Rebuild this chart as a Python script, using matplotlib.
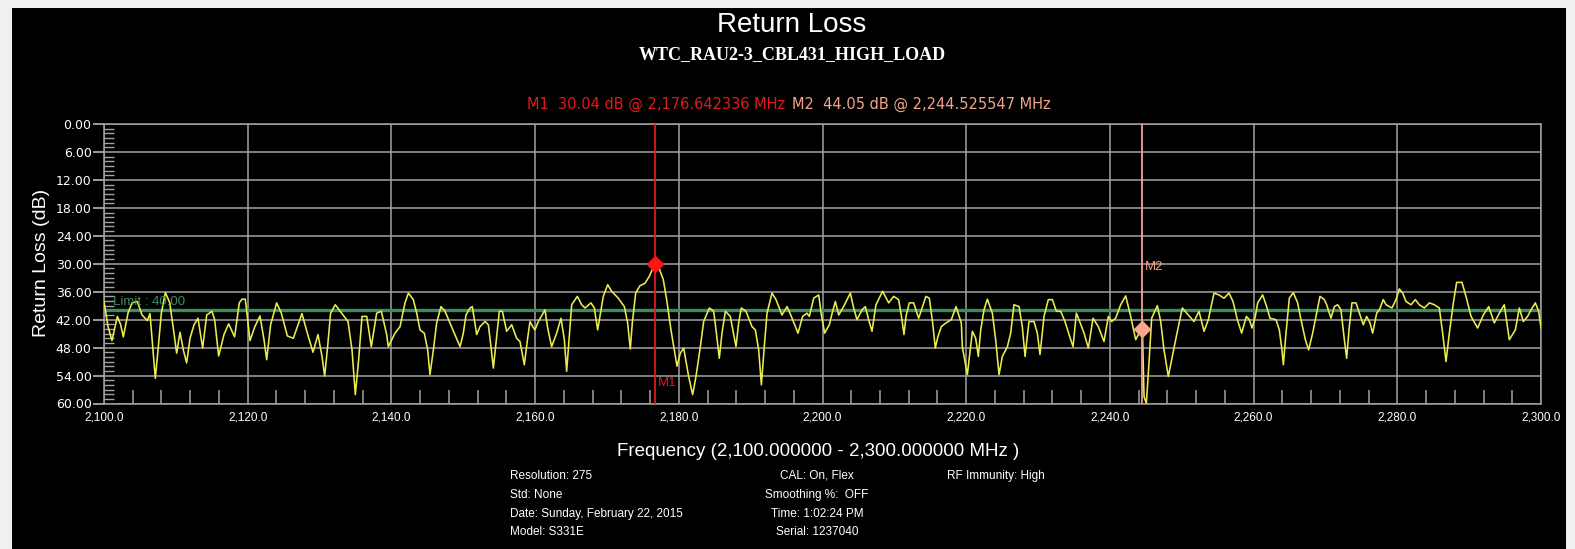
import matplotlib
matplotlib.use("Agg")
import matplotlib.pyplot as plt
from matplotlib.patches import Rectangle
from matplotlib.ticker import MultipleLocator, FuncFormatter

# Return-loss sweep (MHz, dB)
freq_mhz = [
    2100.00, 2100.56, 2101.11, 2101.86, 2102.32, 2102.69, 2103.34, 2103.90, 2104.64, 2105.29,
    2106.03, 2106.40, 2106.82, 2107.14, 2107.52, 2107.98, 2108.54, 2109.14, 2109.74, 2110.11,
    2110.58, 2111.04, 2111.50, 2111.97, 2112.53, 2113.08, 2113.73, 2114.29, 2115.03, 2115.40,
    2115.96, 2116.70, 2117.35, 2118.18, 2118.83, 2119.21, 2119.67, 2120.32, 2120.97, 2121.71,
    2122.27, 2122.64, 2123.19, 2124.03, 2124.68, 2125.52, 2126.35, 2127.55, 2128.30, 2129.09,
    2129.78, 2130.34, 2130.71, 2131.08, 2131.54, 2132.19, 2133.03, 2133.96, 2134.52, 2134.98,
    2135.44, 2135.91, 2136.56, 2137.20, 2137.95, 2138.60, 2139.34,
    2139.57, 2140.50, 2141.20, 2141.89, 2142.36, 2143.05, 2143.52, 2143.98, 2144.58, 2145.05,
    2145.37, 2145.84, 2146.30, 2146.90, 2147.46, 2148.15, 2149.55, 2150.01, 2150.38, 2150.94,
    2151.26, 2151.87, 2152.33, 2153.03, 2153.49, 2153.86, 2154.19, 2154.56, 2155.02, 2155.44,
    2156.04, 2156.74, 2157.43, 2157.90, 2158.50, 2158.96, 2159.29, 2159.66, 2159.98, 2160.45,
    2161.38, 2161.75, 2162.30, 2163.00, 2163.60, 2164.07, 2164.39, 2164.76, 2165.09, 2165.88,
    2166.48, 2166.94, 2167.78, 2168.24, 2168.71, 2169.03, 2169.49, 2170.10, 2170.65, 2171.58,
    2172.42, 2172.88, 2173.25, 2173.53, 2174.00, 2174.60, 2175.29, 2175.90, 2176.642336, 2177.24,
    2177.84, 2178.31, 2178.91,
    2179.75, 2180.21, 2180.68, 2181.37, 2181.93, 2182.39, 2183.00, 2183.46, 2184.25, 2184.85,
    2185.18, 2185.64, 2186.01, 2186.48, 2187.17, 2187.96, 2188.33, 2188.70, 2189.35, 2190.19,
    2190.65, 2191.12, 2191.49, 2191.86, 2192.28, 2192.97, 2193.53, 2194.36, 2195.06, 2195.66,
    2196.59, 2197.24, 2197.84, 2198.17, 2198.77, 2199.47, 2199.84, 2200.30, 2200.95, 2201.41,
    2201.79, 2202.25, 2202.94, 2203.87, 2204.34, 2204.80, 2205.50, 2205.96, 2206.42, 2206.89,
    2207.44, 2208.37, 2209.21, 2209.90, 2210.60, 2211.06, 2211.34, 2211.62, 2212.08, 2212.69,
    2213.38, 2213.85, 2214.40, 2214.87, 2215.33, 2215.70, 2216.07, 2216.54, 2217.19, 2217.93,
    2218.58, 2219.32,
    2219.46, 2220.16, 2220.86, 2221.32, 2221.69, 2222.02, 2222.48, 2222.94, 2223.64, 2224.10,
    2224.57, 2225.03, 2225.73, 2226.19, 2226.65, 2227.35, 2227.81, 2228.19, 2228.74, 2229.44,
    2229.90, 2230.27, 2230.83, 2231.43, 2231.99, 2232.55, 2233.15, 2233.75, 2234.40, 2234.87,
    2235.33, 2235.79, 2236.40, 2237.00, 2237.65, 2238.39, 2239.18, 2239.78, 2240.25, 2240.80,
    2241.50, 2242.20, 2242.89, 2243.59, 2244.05, 2244.525547, 2244.75, 2245.07, 2245.44, 2245.81,
    2246.60, 2247.07, 2247.53, 2248.13, 2248.69, 2249.39, 2250.08, 2250.92, 2251.70, 2252.40,
    2253.10, 2253.70, 2254.49, 2255.19, 2255.88, 2256.58, 2257.13, 2257.74, 2258.34, 2258.99,
    2259.41, 2259.78, 2260.24, 2260.57, 2261.26, 2261.82, 2262.28, 2263.12, 2263.58, 2263.95,
    2264.14, 2264.51, 2264.97, 2265.53, 2266.13, 2266.46, 2267.20, 2267.66, 2268.22, 2268.78,
    2269.24, 2269.84, 2270.17, 2270.77, 2271.24, 2271.70, 2272.16, 2272.63, 2272.95, 2273.32,
    2273.69, 2274.25, 2274.81, 2275.27, 2275.73, 2276.20, 2276.57, 2277.13, 2277.50, 2278.05,
    2278.43, 2279.26, 2279.82, 2280.28, 2280.75, 2281.21, 2281.91, 2282.51, 2283.06, 2283.76,
    2284.46, 2285.15, 2285.85, 2286.31, 2286.78, 2287.24, 2287.80, 2288.26, 2289.00, 2289.56,
    2290.26, 2291.18, 2291.97, 2292.72, 2293.50, 2294.20, 2294.89, 2295.59, 2296.43, 2296.98,
    2297.54, 2298.14, 2298.61, 2299.21, 2299.67, 2300.00,
]
return_loss_db = [
    38.1, 43.5, 46.5, 41.3, 43.1, 45.7, 40.6, 38.4, 38.1, 41.0,
    42.2, 40.7, 48.5, 54.6, 48.5, 40.6, 36.2, 38.3, 44.9, 49.2,
    44.7, 48.5, 51.3, 46.0, 43.1, 41.7, 48.1, 41.0, 40.2, 42.0,
    49.8, 45.2, 42.9, 45.7, 38.4, 37.6, 37.6, 46.5, 43.6, 41.2,
    46.3, 50.6, 43.1, 38.4, 40.6, 45.5, 46.0, 40.7, 44.9, 49.0,
    45.2, 49.9, 54.1, 48.5, 40.6, 38.8, 40.5, 42.4, 48.5, 58.1,
    50.6, 41.3, 41.3, 47.8, 40.6, 40.2, 45.2,
    47.8, 44.9, 43.5, 38.4, 36.3, 37.7, 40.6, 44.2, 44.9, 48.5,
    53.8, 48.5, 42.7, 39.2, 40.2, 42.7, 47.8, 44.9, 41.0, 39.5,
    39.2, 45.2, 43.5, 42.4, 43.1, 47.8, 52.4, 47.0, 40.2, 40.2,
    44.5, 43.1, 46.0, 46.7, 51.7, 46.0, 42.4, 43.5, 44.2, 42.4,
    39.9, 43.8, 47.8, 44.9, 41.7, 46.3, 53.1, 45.6, 38.8, 37.0,
    38.8, 39.5, 38.4, 39.5, 44.2, 41.3, 37.0, 34.5, 35.9, 37.4,
    39.2, 42.7, 48.3, 42.7, 36.3, 34.7, 34.2, 32.7, 30.04, 30.9,
    33.4, 37.7, 44.2,
    52.0, 49.2, 48.1, 54.2, 58.1, 54.2, 47.8, 42.4, 39.5, 40.2,
    44.2, 50.3, 44.9, 40.2, 41.3, 47.8, 42.7, 39.5, 40.2, 43.5,
    44.2, 48.5, 56.0, 48.5, 40.6, 36.3, 37.7, 41.0, 39.2, 41.3,
    44.9, 41.3, 40.6, 41.3, 37.4, 36.7, 41.0, 44.9, 43.1, 40.2,
    38.1, 41.0, 39.2, 36.3, 39.5, 42.0, 39.9, 39.2, 42.0, 44.5,
    38.8, 35.9, 38.4, 37.0, 37.7, 42.0, 45.2, 41.3, 38.4, 38.4,
    41.7, 39.5, 37.0, 37.4, 42.7, 48.1, 45.6, 43.5, 42.7, 42.0,
    39.2, 42.7,
    47.8, 53.8, 44.5, 46.0, 49.9, 44.2, 39.9, 37.6, 40.6, 46.3,
    53.8, 49.9, 47.8, 44.9, 38.8, 39.2, 43.5, 49.9, 42.4, 42.4,
    44.9, 49.5, 41.3, 37.7, 37.7, 40.2, 40.2, 42.4, 45.6, 47.8,
    40.6, 42.4, 44.9, 48.1, 41.7, 43.5, 46.7, 41.3, 42.4, 41.7,
    38.8, 36.9, 41.3, 46.3, 44.9, 44.05, 58.5, 60.0, 51.3, 41.7,
    39.0, 42.4, 48.5, 54.2, 49.9, 44.5, 39.5, 41.0, 42.4, 40.2,
    44.5, 42.0, 36.3, 36.7, 37.4, 36.3, 38.1, 42.0, 44.9, 41.3,
    42.0, 43.8, 41.3, 38.4, 36.7, 39.2, 41.7, 42.0, 44.2, 48.5,
    51.7, 44.9, 37.4, 36.2, 38.4, 41.0, 46.3, 48.5, 44.9, 40.6,
    37.0, 37.7, 38.8, 41.7, 39.2, 38.8, 39.9, 46.3, 50.3, 43.5,
    38.4, 38.4, 41.0, 43.1, 41.3, 42.7, 44.9, 40.6, 39.9, 37.7,
    38.8, 39.5, 37.7, 35.4, 36.3, 38.1, 38.8, 37.7, 38.8, 39.5,
    38.4, 38.8, 39.5, 44.9, 51.0, 44.9, 38.4, 34.0, 34.0, 37.0,
    41.3, 43.8, 41.0, 39.2, 42.7, 40.6, 38.8, 46.3, 44.2, 39.5,
    42.4, 41.3, 39.9, 38.4, 40.2, 43.8,
]

limit_db = 40.00
m1_freq, m1_db = 2176.642336, 30.04
m2_freq, m2_db = 2244.525547, 44.05

freq_ticks = [2100 + 20 * i for i in range(11)]
db_ticks = [6 * i for i in range(11)]

info_left = ["Resolution: 275", "Std: None", "Date: Sunday, February 22, 2015", "Model: S331E"]
info_mid = ["CAL: On, Flex", "Smoothing %:  OFF", "Time: 1:02:24 PM", "Serial: 1237040"]
info_right = ["RF Immunity: High"]

W, H = 1575, 549
SANS = ["Liberation Sans", "DejaVu Sans"]
WIDE = ["DejaVu Sans"]
SERIF = ["Liberation Serif", "DejaVu Serif"]


def fx(x):
    return x / W


def fy(y):
    return 1 - y / H


fig = plt.figure(figsize=(W / 100, H / 100), dpi=100)
fig.patch.set_facecolor("#f0f0f0")
fig.patches.append(Rectangle((fx(12), 0), fx(1566) - fx(12), fy(8), transform=fig.transFigure,
                             facecolor="black", edgecolor="none", zorder=-5))

ax = fig.add_axes([fx(104), fy(403.5), fx(1541) - fx(104), fy(124) - fy(403.5)])
ax.set_zorder(2)
ax.set_facecolor("black")
ax.set_xlim(2100, 2300)
ax.set_ylim(60, 0)

grid_c = "#a2a2a2"
ax.set_xticks(freq_ticks)
ax.set_yticks(db_ticks)
ax.xaxis.set_major_formatter(FuncFormatter(lambda v, p: f"{v:,.1f}"))
ax.yaxis.set_major_formatter(FuncFormatter(lambda v, p: f"{v:.2f}"))
ax.xaxis.set_minor_locator(MultipleLocator(4))
ax.yaxis.set_minor_locator(MultipleLocator(1))
ax.grid(True, which="major", color=grid_c, lw=1.1)
for s in ax.spines.values():
    s.set_color(grid_c)
    s.set_linewidth(1.1)

ax.tick_params(axis="x", which="major", length=0, pad=6, labelcolor="white", labelsize=8.5)
ax.tick_params(axis="x", which="minor", direction="in", length=10, width=1.1, color=grid_c, top=False)
ax.tick_params(axis="y", which="major", direction="out", length=8, width=1.1, color="#c8c8c8",
               pad=1, labelcolor="white", labelsize=9)
ax.tick_params(axis="y", which="minor", direction="in", length=7, width=1.0, color=grid_c)
for lab in ax.get_xticklabels():
    lab.set_family(SANS)
for lab in ax.get_yticklabels():
    lab.set_family(WIDE)

# limit line and sweep trace
ax.axhline(limit_db, color="#3d8c5e", lw=2.4, zorder=2)
ax.text(2101.3, limit_db - 0.6, f"Limit : {limit_db:.2f}", color="#3d8c5e", fontsize=9.5,
        family=SANS, ha="left", va="bottom", zorder=4)
ax.plot(freq_mhz, return_loss_db, color="#ecec50", lw=1.15, zorder=3, clip_on=True)

# markers
ax.axvline(m1_freq, color="#e01a1a", lw=1.3, zorder=4)
ax.plot(m1_freq, m1_db, marker="D", ms=8, color="#ff1414", zorder=5)
ax.text(m1_freq + 0.4, 55.7, "M1", color="#e01a1a", fontsize=9.5, family=SANS, ha="left", va="center")
ax.axvline(m2_freq, color="#f2a488", lw=1.3, zorder=4)
ax.plot(m2_freq, m2_db, marker="D", ms=8, color="#f8a88c", zorder=5)
ax.text(m2_freq + 0.4, 30.8, "M2", color="#f2a488", fontsize=9.5, family=SANS, ha="left", va="center")

# headings
fig.text(fx(792), fy(25), "Return Loss", color="white", fontsize=20, family=SANS, ha="center", va="center")
fig.text(fx(792), fy(55), "WTC_RAU2-3_CBL431_HIGH_LOAD", color="white", fontsize=13, family=SERIF,
         weight="bold", ha="center", va="center")
fig.text(fx(527), fy(104), f"M1  {m1_db:.2f} dB @ {m1_freq:,.6f} MHz", color="#e01a1a", fontsize=10.5,
         family=WIDE, ha="left", va="center")
fig.text(fx(792), fy(104), f"M2  {m2_db:.2f} dB @ {m2_freq:,.6f} MHz", color="#f2a488", fontsize=10.5,
         family=WIDE, ha="left", va="center")

fig.text(fx(42), fy(263), "Return Loss (dB)", color="white", fontsize=14, family=SANS, rotation=90,
         ha="center", va="center")
fig.text(fx(818), fy(452), "Frequency (2,100.000000 - 2,300.000000 MHz )", color="white", fontsize=13.5,
         family=SANS, ha="center", va="center")

rows = [476, 495, 514, 532]
for y, t in zip(rows, info_left):
    fig.text(fx(510), fy(y), t, color="white", fontsize=8.5, family=SANS, ha="left", va="center")
for y, t in zip(rows, info_mid):
    fig.text(fx(817), fy(y), t, color="white", fontsize=8.5, family=SANS, ha="center", va="center")
for y, t in zip(rows, info_right):
    fig.text(fx(947), fy(y), t, color="white", fontsize=8.5, family=SANS, ha="left", va="center")

fig.savefig("out.png", dpi=100, facecolor=fig.get_facecolor())
